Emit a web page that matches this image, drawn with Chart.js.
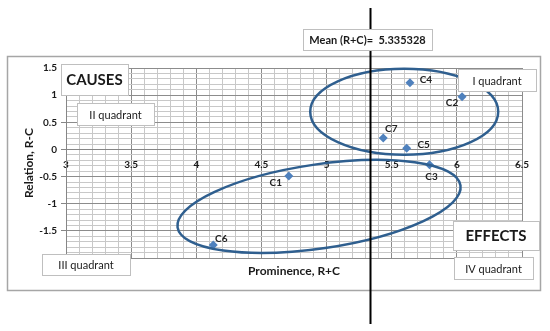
<!DOCTYPE html>
<html>
<head>
<meta charset="utf-8">
<script src="https://cdn.jsdelivr.net/npm/chart.js@4/dist/chart.umd.min.js"></script>
<style>
  html, body { margin: 0; padding: 0; background: #fff; }
  #wrap { width: 550px; height: 331px; }
</style>
</head>
<body>
<div id="wrap"><canvas id="chart"></canvas></div>
<script>
// data
const names = ["C1", "C2", "C3", "C4", "C5", "C6", "C7"];
const prominence = [4.71, 6.04, 5.79, 5.64, 5.615, 4.13, 5.435];   // R+C
const relation = [-0.49, 0.97, -0.28, 1.23, 0.02, -1.76, 0.21];    // R-C
const meanRC = 5.335328;

const FONT = 'Lato, "DejaVu Sans", sans-serif';
const isMajor = v => Math.abs(v * 2 - Math.round(v * 2)) < 1e-6;

// label offsets from each point (px)
const labelOffset = {
  C1: [-13, 7], C2: [-10, 6], C3: [2, 12], C4: [16, -3],
  C5: [17, -4], C6: [8, -6], C7: [8, -9]
};

// ellipses: centre in data units, radii in px, rotation in degrees
const ellipses = [
  { cx: 5.596, cy: 0.694, rx: 94, ry: 43, rot: 0 },
  { cx: 4.942, cy: -1.05, rx: 143, ry: 42, rot: -8.4 }
];

// text boxes (px)
const boxes = [
  { text: "CAUSES", x: 61, y: 64, w: 67, h: 31, font: "bold 15px " + FONT },
  { text: "II quadrant", x: 77, y: 103, w: 77, h: 22, font: "11px " + FONT },
  { text: "I quadrant", x: 458, y: 69, w: 78, h: 22, font: "11px " + FONT },
  { text: "III quadrant", x: 42, y: 254, w: 88, h: 21, font: "11px " + FONT },
  { text: "EFFECTS", x: 453, y: 221, w: 86, h: 29, font: "bold 15px " + FONT },
  { text: "IV quadrant", x: 454, y: 257, w: 79, h: 22, font: "11px " + FONT },
  { text: "Mean (R+C)=  " + meanRC, x: 303, y: 29, w: 129, h: 21, font: "bold 11px " + FONT }
];

const frame = {
  id: "frame",
  beforeDraw(chart) {
    const c = chart.ctx;
    c.save();
    c.fillStyle = "#fff";
    c.fillRect(0, 0, chart.width, chart.height);
    c.strokeStyle = "#a6a6a6";
    c.lineWidth = 1.5;
    c.strokeRect(7.5, 56.5, 533, 234);
    c.restore();
  },
  afterDatasetsDraw(chart) {
    const c = chart.ctx;
    const xs = chart.scales.x, ys = chart.scales.y;
    c.save();
    // ellipses
    c.strokeStyle = "#2f5f8f";
    c.lineWidth = 2.5;
    ellipses.forEach(e => {
      c.beginPath();
      c.ellipse(xs.getPixelForValue(e.cx), ys.getPixelForValue(e.cy), e.rx, e.ry,
        e.rot * Math.PI / 180, 0, 2 * Math.PI);
      c.stroke();
    });
    // point labels
    c.fillStyle = "#222";
    c.font = "bold 10px " + FONT;
    c.textAlign = "center";
    c.textBaseline = "middle";
    names.forEach((n, i) => {
      const o = labelOffset[n];
      c.fillText(n, xs.getPixelForValue(prominence[i]) + o[0], ys.getPixelForValue(relation[i]) + o[1]);
    });
    // mean line
    const mx = Math.round(xs.getPixelForValue(meanRC)) + 0.5;
    c.strokeStyle = "#000";
    c.lineWidth = 2;
    c.beginPath();
    c.moveTo(mx, 8);
    c.lineTo(mx, 324);
    c.stroke();
    // boxes
    boxes.forEach(b => {
      c.fillStyle = "#fff";
      c.fillRect(b.x, b.y, b.w, b.h);
      c.strokeStyle = "#bfbfbf";
      c.lineWidth = 1;
      c.strokeRect(b.x + 0.5, b.y + 0.5, b.w, b.h);
      c.fillStyle = "#1a1a1a";
      c.font = b.font;
      c.fillText(b.text, b.x + b.w / 2, b.y + b.h / 2 + 1);
    });
    // axis titles
    c.font = "bold 12px " + FONT;
    c.fillStyle = "#1a1a1a";
    c.fillText("Prominence, R+C", (chart.chartArea.left + chart.chartArea.right) / 2, 271);
    c.translate(29, (chart.chartArea.top + chart.chartArea.bottom) / 2);
    c.rotate(-Math.PI / 2);
    c.fillText("Relation, R-C", 0, 0);
    c.restore();
  }
};

const gridOpts = {
  tickLength: 5,
  color: ctx => isMajor(ctx.tick.value) ? "#8c8c8c" : "#c8c8c8",
  tickColor: ctx => isMajor(ctx.tick.value) ? "#868686" : "rgba(0,0,0,0)"
};
const tickFont = { family: FONT, size: 10, weight: "bold" };

new Chart(document.getElementById("chart"), {
  type: "scatter",
  data: {
    datasets: [{
      data: prominence.map((x, i) => ({ x: x, y: relation[i] })),
      pointStyle: "rectRot",
      pointRadius: 4.5,
      backgroundColor: "#4f81bd",
      borderColor: "#4f81bd",
      borderWidth: 0
    }]
  },
  options: {
    responsive: true,
    maintainAspectRatio: false,
    animation: false,
    layout: { padding: { left: 7, top: 68, right: 28, bottom: 73 } },
    plugins: { legend: { display: false }, tooltip: { enabled: false } },
    scales: {
      x: {
        type: "linear",
        position: { y: 0 },
        min: 3, max: 6.5,
        afterFit: s => { s.height = 0; },
        ticks: {
          stepSize: 0.1, autoSkip: false, maxRotation: 0, padding: 4,
          color: "#1a1a1a", font: tickFont,
          callback: v => isMajor(v) ? String(Math.round(v * 2) / 2) : ""
        },
        grid: gridOpts,
        border: { color: "#868686", width: 1 }
      },
      y: {
        type: "linear",
        position: "left",
        min: -2, max: 1.5,
        afterFit: s => { s.width = 59; },
        ticks: {
          stepSize: 0.1, autoSkip: false, padding: 4,
          color: "#1a1a1a", font: tickFont,
          callback: v => (isMajor(v) && Math.round(v * 2) !== -4) ? String(Math.round(v * 2) / 2) : ""
        },
        grid: gridOpts,
        border: { color: "#868686", width: 1 }
      }
    }
  },
  plugins: [frame]
});
</script>
</body>
</html>
